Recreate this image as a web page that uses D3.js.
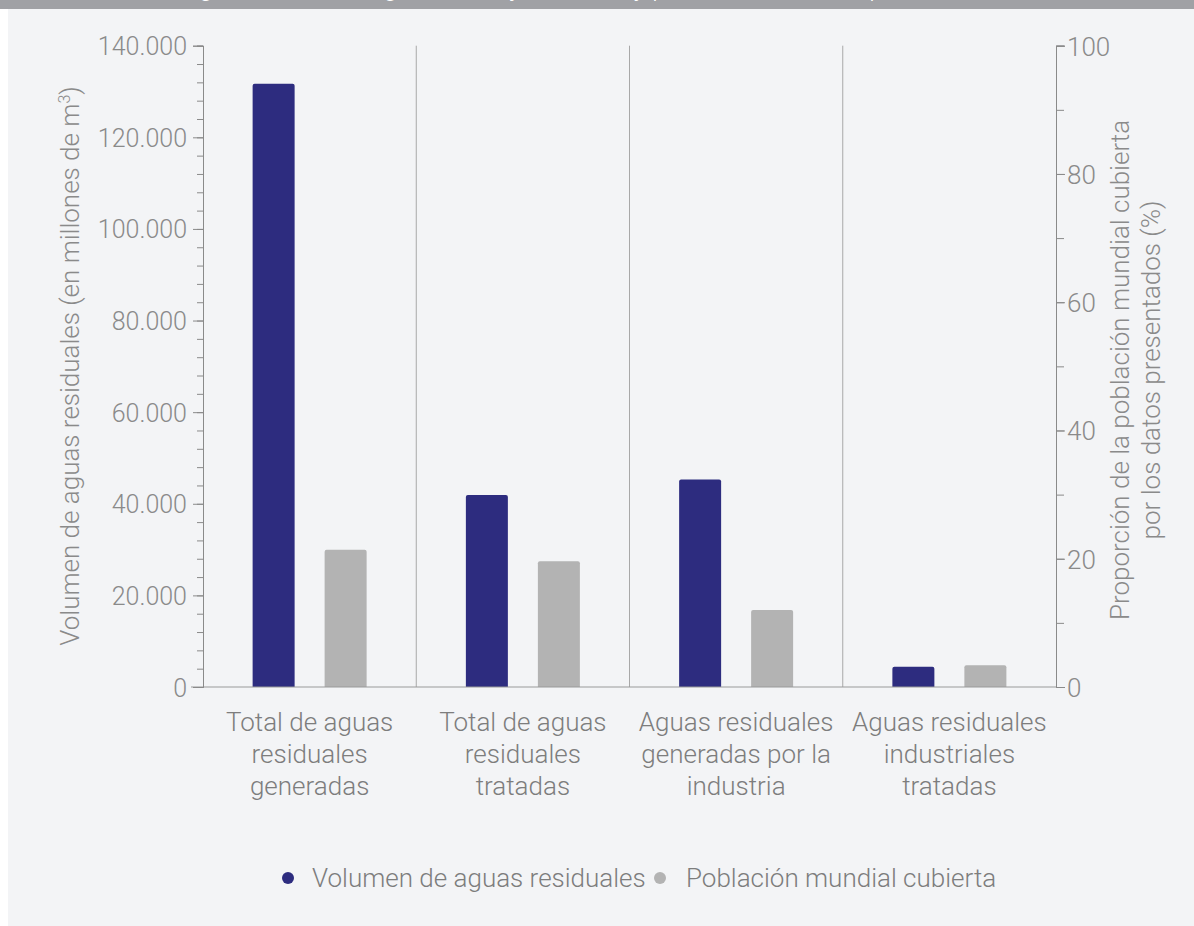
<!DOCTYPE html>
<html>
<head>
<meta charset="utf-8">
<script src="https://cdn.jsdelivr.net/npm/d3@7"></script>
<style>
  body { margin: 0; background: #fff; }
  svg text { font-family: Roboto, "Noto Sans", sans-serif; font-weight: 300; }
</style>
</head>
<body>
<svg id="chart" width="1194" height="926"></svg>
<script>
// datos
const categorias = [
    ['Total de aguas', 'residuales', 'generadas'],
    ['Total de aguas', 'residuales', 'tratadas'],
    ['Aguas residuales', 'generadas por la', 'industria'],
    ['Aguas residuales', 'industriales', 'tratadas']
];
const series = ['Volumen de aguas residuales', 'Población mundial cubierta'];
const volumen = [131700, 41900, 45300, 4400];   // millones de m3
const poblacion = [21.4, 19.6, 12.0, 3.4];       // %
const ticksIzq = [0, 20000, 40000, 60000, 80000, 100000, 120000, 140000];
const ticksDer = [0, 20, 40, 60, 80, 100];

const azul = '#2d2c7f';
const gris = '#b3b3b3';
const colores = [azul, gris];

const svg = d3.select('#chart');

// fondo
svg.append('rect').attr('x', 8).attr('y', 0).attr('width', 1186).attr('height', 926).attr('fill', '#f3f4f6');
svg.append('rect').attr('x', 0).attr('y', 0).attr('width', 1194).attr('height', 9).attr('fill', '#a0a1a5');
// titulo cortado arriba (solo asoman los trazos bajos)
svg.append('clipPath').attr('id', 'cab').append('rect').attr('width', 1194).attr('height', 9);
svg.append('text')
    .attr('clip-path', 'url(#cab)')
    .attr('x', 600).attr('y', -4)
    .attr('text-anchor', 'middle')
    .attr('fill', '#fff')
    .style('font-size', '26px')
    .text('Aguas residuales generadas y tratadas, y población cubierta por los datos');

const mIzq = 203, mDer = 1056, mSup = 45.7, mInf = 687;

const x0 = d3.scaleBand().domain(d3.range(categorias.length)).range([mIzq, mDer]);
const x1 = d3.scaleBand().domain([0, 1]).range([-57, 57]).paddingInner(0.4167);
const yIzq = d3.scaleLinear().domain([0, 140000]).range([mInf, mSup]);
const yDer = d3.scaleLinear().domain([0, 100]).range([mInf, mSup]);

const fmt = d3.formatLocale({ decimal: ',', thousands: '.', grouping: [3], currency: ['', '€'] }).format(',');

// separadores
svg.append('g').selectAll('line')
    .data(d3.range(1, categorias.length))
    .join('line')
    .attr('x1', d => x0(d)).attr('x2', d => x0(d))
    .attr('y1', mSup).attr('y2', mInf)
    .attr('stroke', '#a8a8a8').attr('stroke-width', 1);

// barras
const grupos = svg.append('g').selectAll('g')
    .data(categorias.map((c, i) => i))
    .join('g')
    .attr('transform', i => `translate(${x0(i) + x0.bandwidth() / 2},0)`);

grupos.append('path')
    .attr('fill', azul)
    .attr('d', i => barra(x1(0), yIzq(volumen[i]), x1.bandwidth(), mInf));
grupos.append('path')
    .attr('fill', gris)
    .attr('d', i => barra(x1(1), yDer(poblacion[i]), x1.bandwidth(), mInf));

function barra(x, y, w, y0) {
    const r = 2;
    return `M${x},${y0}V${y + r}Q${x},${y} ${x + r},${y}H${x + w - r}Q${x + w},${y} ${x + w},${y + r}V${y0}Z`;
}

// eje x
svg.append('line')
    .attr('x1', 191).attr('x2', mDer).attr('y1', mInf).attr('y2', mInf)
    .attr('stroke', '#9a9a9a').attr('stroke-width', 1.2);

// eje izquierdo
const ejeIzq = svg.append('g').attr('transform', `translate(${mIzq},0)`)
    .call(d3.axisLeft(yIzq).tickValues(d3.range(0, 140001, 4000)).tickFormat('').tickSize(6));
ejeIzq.append('g').call(d3.axisLeft(yIzq).tickValues(ticksIzq).tickFormat(fmt).tickSize(10).tickPadding(6));
ejeIzq.selectAll('path.domain').attr('stroke', '#8a8a8a');
ejeIzq.selectAll('line').attr('stroke', '#8a8a8a');
ejeIzq.selectAll('text').attr('fill', '#8a8a8a').style('font-size', '25px').attr('dy', '0.36em');

// eje derecho
const ejeDer = svg.append('g').attr('transform', `translate(${mDer},0)`)
    .call(d3.axisRight(yDer).tickValues(d3.range(0, 101, 10)).tickFormat('').tickSize(8));
ejeDer.append('g').call(d3.axisRight(yDer).tickValues(ticksDer).tickSize(9).tickPadding(2));
ejeDer.selectAll('path.domain').attr('stroke', '#8a8a8a');
ejeDer.selectAll('line').attr('stroke', '#8a8a8a');
ejeDer.selectAll('text').attr('fill', '#8a8a8a').style('font-size', '26px').attr('dy', '0.36em');

// etiquetas categorias
const etiq = svg.append('g').selectAll('text')
    .data(categorias)
    .join('text')
    .attr('text-anchor', 'middle')
    .attr('fill', '#7d7d7d')
    .style('font-size', '26px');
etiq.selectAll('tspan')
    .data((d, i) => d.map(t => ({ t, i })))
    .join('tspan')
    .attr('x', d => x0(d.i) + x0.bandwidth() / 2)
    .attr('y', (d, j) => 731 + j * 32)
    .text(d => d.t);

// titulos de ejes
const tIzq = svg.append('text')
    .attr('transform', 'translate(79,366) rotate(-90)')
    .attr('text-anchor', 'middle')
    .attr('fill', '#8a8a8a')
    .style('font-size', '26px');
tIzq.append('tspan').text('Volumen de aguas residuales (en millones de m');
tIzq.append('tspan').attr('dy', -9).style('font-size', '16px').text('3');
tIzq.append('tspan').attr('dy', 9).text(')');

const tDer = svg.append('text')
    .attr('transform', 'translate(1129,370) rotate(-90)')
    .attr('text-anchor', 'middle')
    .attr('fill', '#8a8a8a')
    .style('font-size', '26px');
tDer.append('tspan').attr('x', 0).attr('y', 0).text('Proporción de la población mundial cubierta');
tDer.append('tspan').attr('x', 0).attr('y', 31).text('por los datos presentados (%)');

// leyenda
const leyX = [288, 660];
const ley = svg.append('g').selectAll('g')
    .data(series)
    .join('g')
    .attr('transform', (d, i) => `translate(${leyX[i]},878)`);
ley.append('circle').attr('r', 6).attr('fill', (d, i) => colores[i]);
ley.append('text')
    .attr('x', (d, i) => i === 0 ? 24 : 26).attr('y', 9)
    .attr('fill', '#7d7d7d')
    .style('font-size', '26px')
    .text(d => d);
</script>
</body>
</html>
